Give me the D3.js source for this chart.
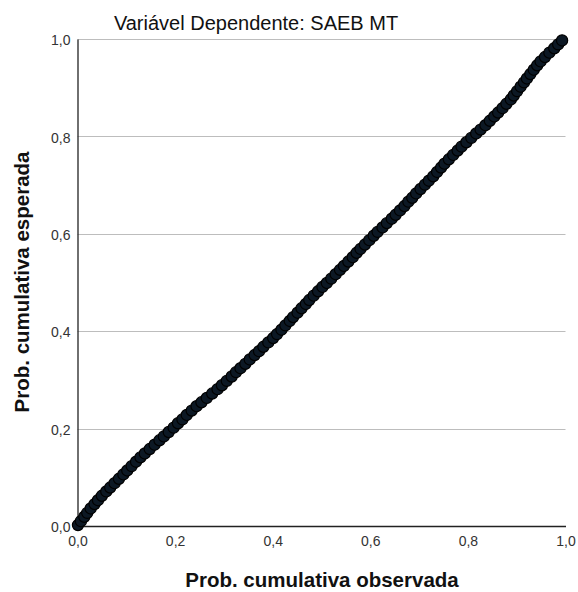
<!DOCTYPE html>
<html>
<head>
<meta charset="utf-8">
<script src="https://cdn.jsdelivr.net/npm/d3@7"></script>
<style>
  html, body { margin: 0; padding: 0; background: #fff; }
  svg { display: block; font-family: "Liberation Sans", Arial, sans-serif; }
</style>
</head>
<body>
<svg id="chart" width="578" height="592"></svg>
<script>
// ---- data ----
const titleText = "Variável Dependente: SAEB MT";
const xLabel = "Prob. cumulativa observada";
const yLabel = "Prob. cumulativa esperada";
const tickValues = [0, 0.2, 0.4, 0.6, 0.8, 1.0];
const tickLabels = ["0,0", "0,2", "0,4", "0,6", "0,8", "1,0"];

const expected = [
  0.002, 0.010, 0.019, 0.027, 0.036, 0.045, 0.053, 0.062, 0.071, 0.079,
  0.088, 0.097, 0.106, 0.114, 0.123, 0.132, 0.141, 0.149, 0.158, 0.167,
  0.176, 0.184, 0.193, 0.202, 0.211, 0.219, 0.228, 0.237, 0.246, 0.254,
  0.263, 0.272, 0.281, 0.289, 0.298, 0.307, 0.316, 0.324, 0.333, 0.342,
  0.351, 0.359, 0.368, 0.377, 0.386, 0.394, 0.403, 0.412, 0.421, 0.429,
  0.438, 0.447, 0.456, 0.464, 0.473, 0.482, 0.491, 0.499, 0.508, 0.517,
  0.526, 0.534, 0.543, 0.552, 0.561, 0.569, 0.578, 0.587, 0.596, 0.604,
  0.613, 0.622, 0.631, 0.639, 0.648, 0.657, 0.666, 0.674, 0.683, 0.692,
  0.701, 0.709, 0.718, 0.727, 0.736, 0.744, 0.753, 0.762, 0.771, 0.779,
  0.788, 0.797, 0.806, 0.814, 0.823, 0.832, 0.841, 0.849, 0.858, 0.867,
  0.876, 0.884, 0.893, 0.902, 0.911, 0.919, 0.928, 0.937, 0.946, 0.954,
  0.963, 0.972, 0.981, 0.989, 0.997
];
const observed = [
  0.001, 0.007, 0.014, 0.020, 0.027, 0.035, 0.042, 0.050, 0.059, 0.067,
  0.076, 0.085, 0.094, 0.102, 0.111, 0.120, 0.129, 0.138, 0.148, 0.158,
  0.168, 0.177, 0.187, 0.197, 0.206, 0.215, 0.224, 0.234, 0.244, 0.254,
  0.265, 0.276, 0.287, 0.296, 0.306, 0.316, 0.325, 0.334, 0.344, 0.353,
  0.363, 0.372, 0.381, 0.391, 0.401, 0.409, 0.418, 0.426, 0.435, 0.442,
  0.451, 0.459, 0.468, 0.475, 0.484, 0.493, 0.502, 0.511, 0.520, 0.529,
  0.538, 0.546, 0.555, 0.564, 0.572, 0.580, 0.589, 0.598, 0.607, 0.615,
  0.625, 0.634, 0.644, 0.652, 0.661, 0.670, 0.678, 0.686, 0.694, 0.703,
  0.712, 0.720, 0.729, 0.737, 0.745, 0.752, 0.761, 0.770, 0.779, 0.787,
  0.797, 0.807, 0.817, 0.826, 0.836, 0.845, 0.854, 0.862, 0.871, 0.879,
  0.888, 0.894, 0.901, 0.908, 0.915, 0.921, 0.928, 0.935, 0.942, 0.949,
  0.958, 0.967, 0.977, 0.985, 0.993
];
const refLine = [0, 1];

// ---- drawing ----
const svg = d3.select("#chart");
const x = d3.scaleLinear().domain([0, 1]).range([77.5, 565.5]);
const y = d3.scaleLinear().domain([0, 1]).range([526, 39]);
const labelOf = v => tickLabels[tickValues.indexOf(v)];

// horizontal gridlines
svg.append("g")
  .selectAll("line")
  .data(tickValues.filter(v => v > 0))
  .join("line")
  .attr("x1", x(0)).attr("x2", x(1))
  .attr("y1", d => Math.round(y(d)) + 0.5).attr("y2", d => Math.round(y(d)) + 0.5)
  .attr("stroke", "#bdbdbd").attr("stroke-width", 1.2);

// reference diagonal (mostly hidden under the points)
svg.append("line")
  .attr("x1", x(refLine[0])).attr("y1", y(refLine[0]))
  .attr("x2", x(refLine[1])).attr("y2", y(refLine[1]))
  .attr("stroke", "#333").attr("stroke-width", 1);

// y axis
const yAxis = svg.append("g")
  .attr("transform", `translate(${x(0)},0)`)
  .call(d3.axisLeft(y).tickValues(tickValues).tickSize(0).tickPadding(7).tickFormat(labelOf));
yAxis.select(".domain").attr("stroke", "#222").attr("stroke-width", 1.3);
yAxis.selectAll("text")
  .attr("font-size", 14).attr("fill", "#333")
  .attr("font-family", "'Liberation Sans', Arial, sans-serif")
  .attr("dy", "0.62em").attr("y", -3);

// x axis
const xAxis = svg.append("g")
  .attr("transform", `translate(0,${y(0)})`)
  .call(d3.axisBottom(x).tickValues(tickValues).tickSize(0).tickPadding(10).tickFormat(labelOf));
xAxis.select(".domain").attr("stroke", "#222").attr("stroke-width", 1.3);
xAxis.selectAll("text")
  .attr("font-size", 14).attr("fill", "#333")
  .attr("font-family", "'Liberation Sans', Arial, sans-serif");

// points
svg.append("g")
  .selectAll("circle")
  .data(expected.map((e, i) => ({ e, o: observed[i] })))
  .join("circle")
  .attr("cx", d => x(d.o))
  .attr("cy", d => y(d.e))
  .attr("r", 5.6)
  .attr("fill", "#0c1824")
  .attr("stroke", "#000")
  .attr("stroke-width", 1.2);

// title
svg.append("text")
  .attr("x", 256).attr("y", 30)
  .attr("text-anchor", "middle")
  .attr("font-size", 20).attr("fill", "#111")
  .text(titleText);

// axis labels
svg.append("text")
  .attr("x", 322).attr("y", 587)
  .attr("text-anchor", "middle")
  .attr("font-size", 20.5).attr("font-weight", "bold").attr("fill", "#111")
  .text(xLabel);

svg.append("text")
  .attr("transform", "translate(29,282) rotate(-90)")
  .attr("text-anchor", "middle")
  .attr("font-size", 20.5).attr("font-weight", "bold").attr("fill", "#111")
  .text(yLabel);
</script>
</body>
</html>
